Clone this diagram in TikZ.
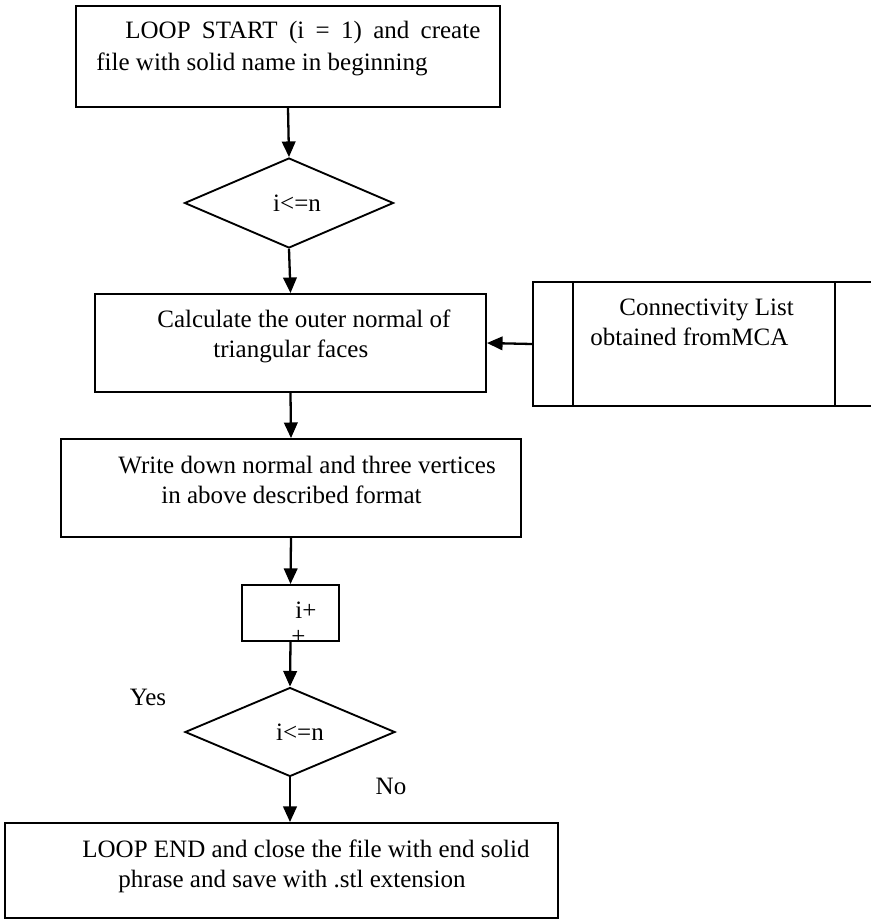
\documentclass[tikz,border=0pt]{standalone}
\usepackage{fontspec}
\setmainfont{Liberation Serif}
\usetikzlibrary{shapes.geometric,arrows.meta}

\begin{document}
\begin{tikzpicture}
		[x = 0.48pt, y = -0.48pt,
		 font = \fontsize{12}{14.4}\selectfont,
		 box/.style = {draw, line width = 0.9pt, inner sep = 0pt},
		 decision/.style = {draw, diamond, line width = 0.9pt, inner sep = 0pt},
		 txt/.style = {anchor = north west, inner sep = 0pt, align = left},
		 flow/.style = {line width = 1.1pt, -{Triangle[length = 7.5pt, width = 6.5pt]}}]
		\useasboundingbox (0, 0) rectangle (871, 919);
		% boxes and decisions
		\node[box, minimum width = 203.5pt, minimum height = 48.5pt] (start) at (288, 56.5) {};
		\node[decision, minimum width = 100.3pt, minimum height = 43.2pt] (test) at (289, 203) {\hspace*{7.7pt}i<=n};
		\node[box, minimum width = 187.7pt, minimum height = 47pt] (calc) at (290.5, 343) {};
		\node[box, minimum width = 166.6pt, minimum height = 59.5pt] (conn) at (706.5, 344) {};
		\draw[line width = 0.9pt] ([xshift = 19.7pt]conn.north west) -- ([xshift = 19.7pt]conn.south west)
			([xshift = -22.1pt]conn.north east) -- ([xshift = -22.1pt]conn.south east);
		\node[box, minimum width = 221pt, minimum height = 47pt] (write) at (291, 488) {};
		\node[box, minimum width = 46.6pt, minimum height = 26.9pt] (inc) at (290.5, 613) {};
		\node[decision, minimum width = 100.8pt, minimum height = 42.7pt] (check) at (290, 732) {\hspace*{9.6pt}i<=n};
		\node[box, minimum width = 265.4pt, minimum height = 45.6pt] (finish) at (281.5, 870.5) {};
		% texts
		\node[txt, font = \fontsize{12}{15.4}\selectfont] (start-text) at (96, 15.5)
			{\strut\hspace*{13.9pt}\makebox[170.4pt][s]{LOOP START (i = 1) and create}\\
			 file with solid name in beginning};
		\node[txt] (calc-text) at (157, 306)
			{\strut Calculate the outer normal of\\ \hspace*{26.9pt}triangular faces};
		\node[txt] (conn-text) at (590, 294)
			{\strut\hspace*{13.9pt}Connectivity List\\ obtained fromMCA};
		\node[txt] (write-text) at (118, 452)
			{\strut Write down normal and three vertices\\ \hspace*{20.6pt}in above described format};
		\node[txt] (inc-text) at (291, 597)
			{\strut\hspace*{1.9pt}i+\\[-2pt] +};
		\node[txt] (finish-text) at (82, 836)
			{\strut LOOP END and close the file with end solid\\ \hspace*{17.3pt}phrase and save with .stl extension};
		\node[anchor = base] (yes) at (148, 705) {Yes};
		\node[anchor = base] (no) at (391, 794) {No};
		% connectors
		\draw[flow] (start.south) -- (test.north);
		\draw[flow] (test.south) -- (calc.north);
		\draw[flow] (conn.west) -- (calc.east);
		\draw[flow] (calc.south) -- (write.north);
		\draw[flow] (write.south) -- (inc.north);
		\draw[flow] (inc.south) -- (check.north);
		\draw[flow] (check.south) -- (check.south |- finish.north);
	\end{tikzpicture}
\end{document}
